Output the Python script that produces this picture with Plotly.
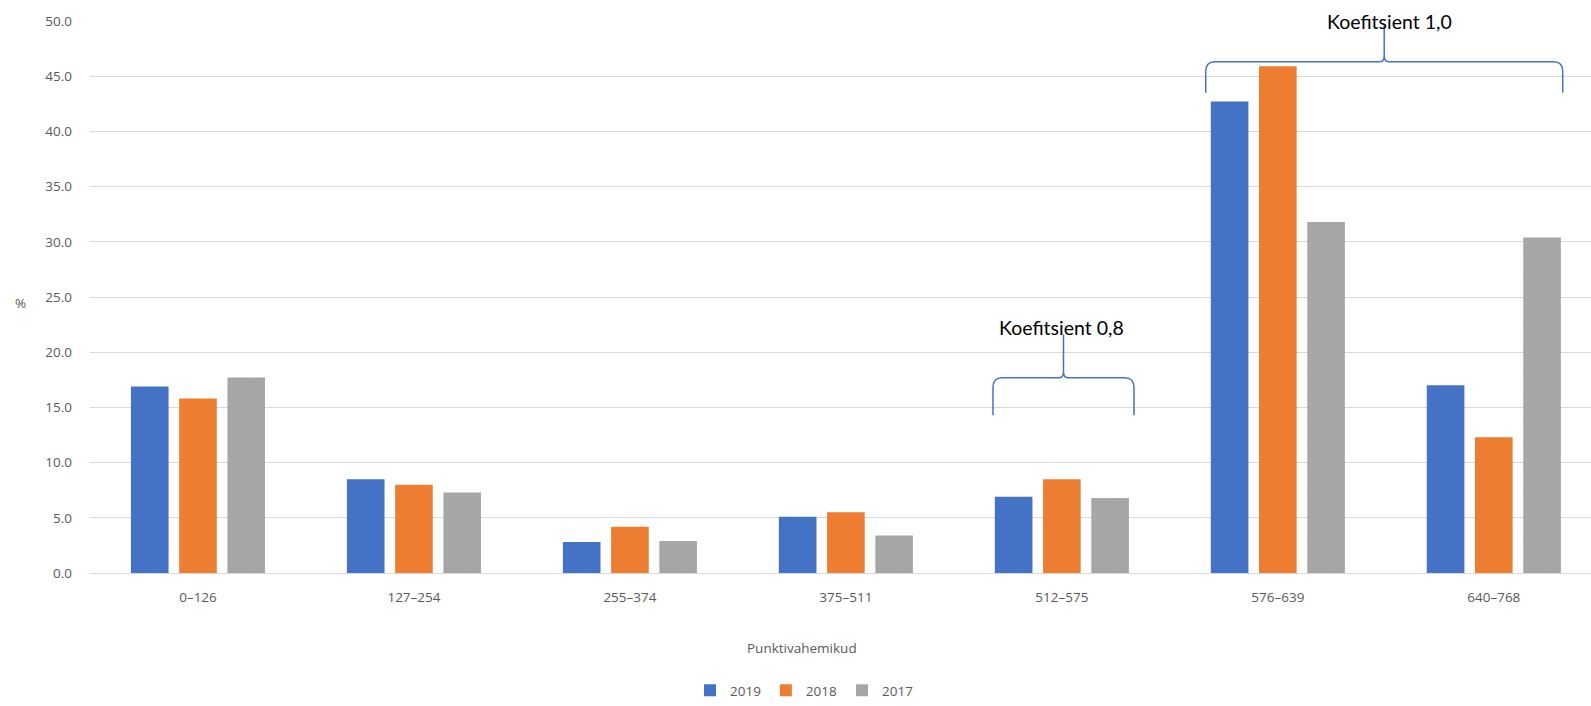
import plotly.graph_objects as go

categories = ["0–126", "127–254", "255–374", "375–511", "512–575", "576–639", "640–768"]
series_names = ["2019", "2018", "2017"]
v2019 = [16.9, 8.5, 2.8, 5.1, 6.9, 42.7, 17.0]
v2018 = [15.8, 8.0, 4.2, 5.5, 8.5, 45.9, 12.3]
v2017 = [17.7, 7.3, 2.9, 3.4, 6.8, 31.8, 30.4]
colors = ["#4472C4", "#ED7D31", "#A5A5A5"]
y_ticks = [0, 5, 10, 15, 20, 25, 30, 35, 40, 45, 50]

fig = go.Figure()
for name, vals, col in zip(series_names, [v2019, v2018, v2017], colors):
    marker = dict(color=col, line=dict(width=0))
    if name == "2017":
        marker["pattern"] = dict(shape=".", fgcolor="#999999", bgcolor="#A8A8A8", size=3, solidity=0.3)
    fig.add_trace(go.Bar(x=list(range(len(categories))), y=vals, name=name, marker=marker))

tick_font = dict(family="Open Sans", size=13.5, color="#595959")

fig.update_layout(
    width=1591, height=706,
    margin=dict(l=90, r=0, t=21, b=127),
    plot_bgcolor="white", paper_bgcolor="white",
    barmode="group", bargap=0.33, bargroupgap=0.22,
    showlegend=True,
    legend=dict(orientation="h", x=0.476, xanchor="center", y=-0.213, yanchor="middle",
                font=tick_font, itemwidth=30, traceorder="normal"),
    xaxis=dict(tickmode="array", tickvals=list(range(len(categories))), ticktext=categories,
               range=[-0.5, 6.45], showgrid=False, showline=True, linecolor="#D9D9D9",
               linewidth=1, tickfont=tick_font, ticks="", ticklabelstandoff=12),
    yaxis=dict(range=[0, 50], tickvals=y_ticks, tickformat=".1f", showgrid=True,
               gridcolor="#D9D9D9", gridwidth=1, zeroline=False, tickfont=tick_font,
               ticks="", ticklabelstandoff=17),
)

# axis titles
fig.add_annotation(text="%", xref="paper", yref="paper", x=(20 - 90) / 1501, y=0.49,
                   showarrow=False, font=tick_font, xanchor="center", yanchor="middle")
fig.add_annotation(text="Punktivahemikud", xref="paper", yref="paper", x=(802 - 90) / 1501,
                   y=(579 - 655) / 558, showarrow=False, font=tick_font,
                   xanchor="center", yanchor="middle")

PXU = 216.0   # px per category unit (approx)
PYU = 11.16   # px per y unit (approx)

def brace(x0, x1, y_h, y_end, y_tip):
    xm = (x0 + x1) / 2
    rx = 9 / PXU
    cy = 10 / PYU
    rt = 5 / PXU
    ct = 6 / PYU
    path = (f"M {x0},{y_end} L {x0},{y_h - cy} Q {x0},{y_h} {x0 + rx},{y_h} "
            f"L {xm - rt},{y_h} Q {xm},{y_h} {xm},{y_h + ct} L {xm},{y_tip} "
            f"M {xm},{y_h + ct} Q {xm},{y_h} {xm + rt},{y_h} "
            f"L {x1 - rx},{y_h} Q {x1},{y_h} {x1},{y_h - cy} L {x1},{y_end}")
    fig.add_shape(type="path", path=path, xref="x", yref="y",
                  line=dict(color="#4472C4", width=1.5))

brace(3.681, 4.334, 17.68, 14.3, 21.6)
brace(4.666, 6.319, 46.3, 43.5, 49.6)

ann_font = dict(family="Lato", size=19.5, color="#000000")
fig.add_annotation(text="Koefitsient 0,8", x=4.0, y=22.2, xref="x", yref="y",
                   showarrow=False, font=ann_font, xanchor="center", yanchor="middle")
fig.add_annotation(text="Koefitsient 1,0", x=5.519, y=50.0, xref="x", yref="y",
                   showarrow=False, font=ann_font, xanchor="center", yanchor="middle")

fig.write_html("out.html")
